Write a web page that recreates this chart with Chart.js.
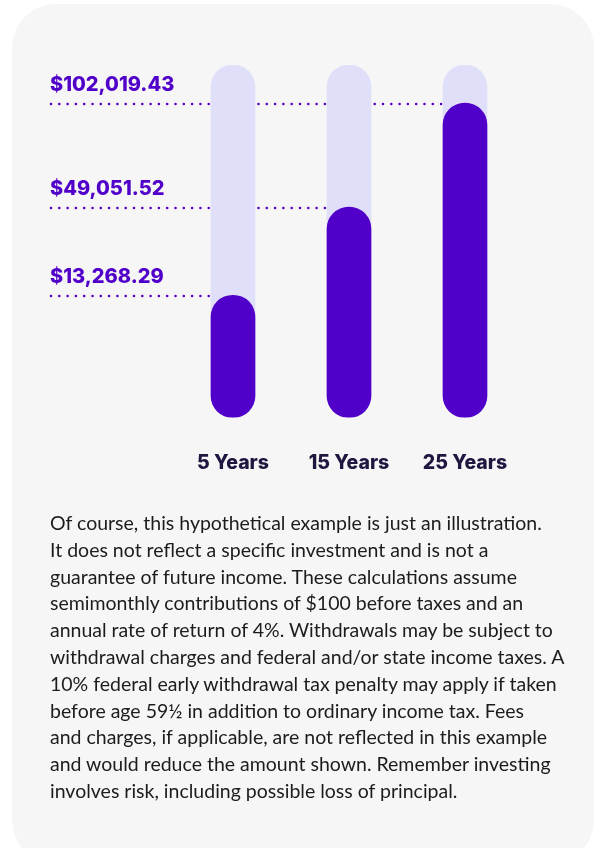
<!DOCTYPE html>
<html>
<head>
<meta charset="utf-8">
<script src="https://cdn.jsdelivr.net/npm/chart.js@4"></script>
<style>
  html, body { margin: 0; padding: 0; background: #ffffff; }
  body { width: 600px; height: 848px; position: relative; overflow: hidden; }
  #card {
    position: absolute; left: 12px; top: 4px; width: 582px; height: 860px;
    background: #f6f6f6; border-radius: 44px;
  }
  #myChart { position: absolute; left: 0; top: 0; }
  #note {
    position: absolute; left: 50px; top: 510px; width: 545px;
    font-family: "Lato", sans-serif; font-size: 19.5px; line-height: 26.8px;
    color: #1c1c1c;
  }
</style>
</head>
<body>
<div id="card"></div>
<canvas id="myChart" width="600" height="519"></canvas>
<div id="note">
Of course, this hypothetical example is just an illustration.<br>
It does not reflect a specific investment and is not a<br>
guarantee of future income. These calculations assume<br>
semimonthly contributions of $100 before taxes and an<br>
annual rate of return of 4%. Withdrawals may be subject to<br>
withdrawal charges and federal and/or state income taxes. A<br>
10% federal early withdrawal tax penalty may apply if taken<br>
before age 59½ in addition to ordinary income tax. Fees<br>
and charges, if applicable, are not reflected in this example<br>
and would reduce the amount shown. Remember investing<br>
involves risk, including possible loss of principal.
</div>
<script>
// categories and values (bar heights are illustrative, 0-100 scale as drawn)
const categories = ["5 Years", "15 Years", "25 Years"];
const balanceLabels = ["$13,268.29", "$49,051.52", "$102,019.43"];
const barValues = [34.7, 59.7, 89.2];
const trackValues = [100, 100, 100];

const purple = "#5000c8";
const track = "#e0dffa";

// dotted guide + amount label for each bar
const guidePlugin = {
    id: "guides",
    beforeDatasetsDraw(chart) {
        const ctx = chart.ctx;
        const x = chart.scales.x;
        const y = chart.scales.y;
        ctx.save();
        for (let i = 0; i < categories.length; i++) {
            const py = Math.round(y.getPixelForValue(barValues[i])) + 1;
            ctx.strokeStyle = purple;
            ctx.lineWidth = 2.6;
            ctx.lineCap = "round";
            ctx.setLineDash([0, 8.3]);
            ctx.beginPath();
            ctx.moveTo(51, py);
            ctx.lineTo(x.getPixelForValue(i), py);
            ctx.stroke();

            ctx.setLineDash([]);
            ctx.fillStyle = purple;
            ctx.font = "800 20px Inter";
            ctx.textAlign = "left";
            ctx.textBaseline = "alphabetic";
            ctx.fillText(balanceLabels[i], 50, py - 13);
        }
        ctx.restore();
    }
};

const ctx = document.getElementById("myChart").getContext("2d");
const chart = new Chart(ctx, {
    type: "bar",
    data: {
        labels: categories,
        datasets: [
            {
                label: "Balance",
                data: barValues,
                backgroundColor: purple,
                borderRadius: 22,
                borderSkipped: false,
                barThickness: 44,
                grouped: false
            },
            {
                label: "Track",
                data: trackValues,
                backgroundColor: track,
                borderRadius: 22,
                borderSkipped: false,
                barThickness: 44,
                grouped: false
            }
        ]
    },
    options: {
        responsive: false,
        animation: false,
        layout: { padding: { left: 175, right: 77, top: 65, bottom: 18 } },
        plugins: {
            legend: { display: false },
            tooltip: { enabled: false }
        },
        scales: {
            y: { display: false, min: 0, max: 100 },
            x: {
                grid: { display: false },
                border: { display: false },
                ticks: {
                    padding: 26,
                    color: "#21163f",
                    font: { family: "Inter", size: 19.5, weight: "800" }
                }
            }
        }
    },
    plugins: [guidePlugin]
});
</script>
</body>
</html>
